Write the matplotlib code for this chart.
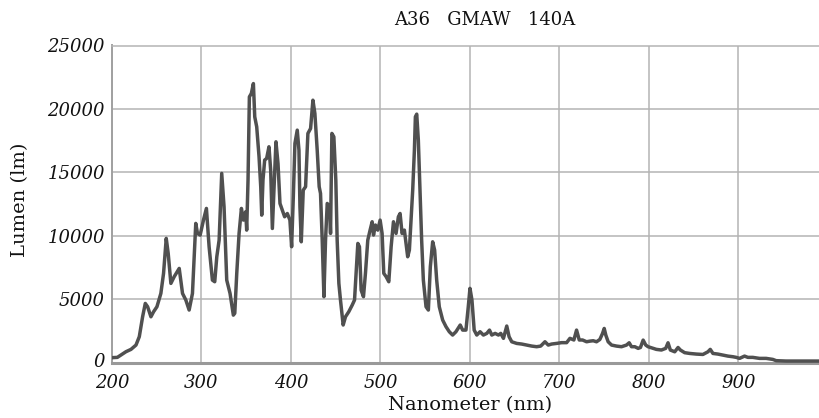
import matplotlib
matplotlib.use("Agg")
import matplotlib.pyplot as plt
import matplotlib.transforms as mtransforms

# ---- data ----
wavelength_nm = [
    201, 206, 215.6, 221.2, 226.8, 230.5, 234.2, 237.2, 239.8, 243.5, 246.5, 250.2,
    254.6, 257.6, 260.6, 262.8, 265.8, 269.5, 275.1, 278.8, 282.5, 286.2, 289.9,
    293.6, 295.5, 298.5, 302.2, 305.5, 308.5, 312.2, 314.8, 317.1, 319.7, 322.6,
    325.2, 328.2, 331.9, 335.6, 337.2, 339.4, 342, 344.6, 346.8, 349.4, 350.5, 352,
    353.5, 355.7, 358, 359.5, 361.7, 364.3, 366.2, 367.3, 368.7, 370.6, 372.8,
    375.4, 377.3, 379.2, 381, 383.2, 385.5, 387.7, 390.3, 392.9, 395.9, 398.8,
    400.7, 402.6, 404.4, 407, 408.9, 410, 411.5, 413.7, 416.3, 418.9, 421.9, 424.5,
    426.7, 429.3, 431.5, 433, 434.9, 436.8, 438.6, 440.5, 443.1, 444.2, 445.7,
    447.9, 450.1, 451.6, 453.5, 455.3, 458.3, 460.9, 464.6, 468.4, 471, 472.8,
    474.7, 476.5, 478.4, 481, 483.2, 485.8, 488.4, 490.7, 492.2, 494.4, 497, 499.6,
    501.8, 503.7, 506.3, 509.3, 511.9, 514.5, 517.4, 520, 521.9, 524.1, 526.7,
    528.6, 530.4, 532.3, 534.5, 536, 537.9, 539, 540.5, 542.3, 544.2, 546, 547.9,
    550.9, 553.5, 555.7, 558.3, 560.5, 562.8, 565.7, 569.5, 573.2, 576.9, 580.6,
    584.3, 589.1, 591.8, 595.5, 598.1, 600, 602.2, 604.7, 607.6, 611.3, 615, 618.8,
    621.8, 624.4, 628.1, 631.8, 634.4, 637.4, 641.1, 643.7, 646.7, 652.2, 657.8,
    663.4, 669, 674.5, 679, 683.8, 687.5, 691.2, 696.8, 702.4, 708, 711.7, 716.1,
    719.1, 722.1, 725.8, 730.3, 734, 737.7, 741.4, 745.1, 748.1, 750, 751.8, 754.4,
    758.2, 763.7, 769.3, 774.9, 777.9, 780.5, 784.2, 787.9, 790.5, 793.5, 796.4,
    799, 802.7, 808.3, 813.9, 818.7, 821.3, 823.9, 828.8, 832.5, 835.1, 839.9,
    845.5, 852.9, 860.3, 865.9, 868.5, 871.5, 877, 882.6, 888.2, 893.8, 897.5,
    901.2, 906.8, 910.5, 916, 923.5, 930.9, 938.4, 942.1, 953.2, 968.1, 989.3,
]
lumen = [
    400, 420, 866, 1050, 1390, 2050, 3620, 4670, 4410, 3620, 4020, 4410,
    5460, 7040, 9800, 8610, 6250, 6780, 7430, 5460, 4940, 4150, 5460,
    10980, 10190, 10060, 11240, 12160, 9140, 6510, 6380, 8350, 9660, 14920,
    12290, 6510, 5460, 3750, 3900, 7040, 10190, 12160, 11240, 11900, 10450, 14390,
    20950, 21220, 22000, 19380, 18590, 16230, 13870, 11630, 14390, 15970, 16100,
    17020, 15180, 10580, 13600, 17410, 15700, 12550, 12030, 11500, 11760, 11240,
    9140, 13080, 17280, 18330, 16750, 12290, 9530, 13600, 13870, 18070, 18460, 20690,
    19640, 16750, 13870, 13340, 9660, 5200, 9660, 12550, 12290, 10190, 18070,
    17800, 14390, 9660, 6250, 4940, 2970, 3620, 4020, 4540, 4940, 7040,
    9400, 9140, 5720, 5200, 7040, 9660, 10450, 11110, 10060, 10850, 10450, 11240,
    10190, 7040, 6780, 6380, 9140, 11110, 10190, 11500, 11760, 10190, 10450,
    9400, 8350, 8880, 11760, 13600, 16750, 19380, 19590, 17540, 13600, 9660, 6510,
    4410, 4150, 7560, 9530, 8880, 6510, 4410, 3360, 2840, 2440, 2180,
    2440, 2970, 2570, 2570, 4410, 5860, 4940, 2570, 2180, 2440, 2180, 2310,
    2570, 2180, 2310, 2180, 2310, 1920, 2890, 2050, 1650, 1520, 1470,
    1390, 1310, 1260, 1310, 1650, 1390, 1470, 1520, 1580, 1580, 1920, 1790,
    2570, 1790, 1790, 1650, 1700, 1730, 1650, 1830, 2300, 2700, 2170, 1650,
    1390, 1310, 1260, 1390, 1570, 1260, 1260, 1130, 1200, 1780, 1390,
    1260, 1180, 1050, 1000, 1130, 1570, 1000, 860, 1200, 1000, 790,
    730, 680, 650, 860, 1050, 730, 680, 600, 520, 470, 420,
    340, 520, 420, 420, 340, 340, 260, 160, 130, 130, 130,
]
x_ticks = [200, 300, 400, 500, 600, 700, 800, 900]
y_ticks = [0, 5000, 10000, 15000, 20000, 25000]
title_text = "A36   GMAW   140A"
x_label = "Nanometer (nm)"
y_label = "Lumen (lm)"

# ---- figure ----
W, H = 819, 418
fig = plt.figure(figsize=(W / 100, H / 100), dpi=100)
ax = fig.add_axes([112 / W, 1 - 362.7 / H, (W - 112) / W, (362.7 - 45.5) / H])

ax.plot(wavelength_nm, lumen, color="#505050", lw=2.5, solid_joinstyle="round",
        zorder=3)

ax.set_xlim(200, 990)
ax.set_ylim(0, 25000)
ax.set_xticks(x_ticks)
ax.set_yticks(y_ticks)
ax.set_xticklabels([str(t) for t in x_ticks])
ax.set_yticklabels([str(t) for t in y_ticks])
ax.tick_params(length=0, labelsize=13)
ax.tick_params(axis="x", pad=8)
ax.tick_params(axis="y", pad=5)
for lab in ax.get_xticklabels() + ax.get_yticklabels():
    lab.set_fontfamily("DejaVu Serif")
    lab.set_fontstyle("italic")
    lab.set_color("#111111")
# nudge the "0" y label up a little, as in the reference
zero_lab = ax.get_yticklabels()[0]
zero_lab.set_transform(zero_lab.get_transform() +
                       mtransforms.ScaledTranslation(0, 3 / 100, fig.dpi_scale_trans))

ax.grid(True, color="#b4b4b4", lw=1.1)
ax.set_axisbelow(True)
ax.spines["right"].set_visible(False)
ax.spines["top"].set_color("#b4b4b4")
ax.spines["top"].set_linewidth(1.1)
ax.spines["left"].set_color("#a0a0a0")
ax.spines["left"].set_linewidth(1.4)
ax.spines["bottom"].set_color("#999999")
ax.spines["bottom"].set_linewidth(2.2)

fig.text(485 / W, 1 - 20 / H, title_text, ha="center", va="center",
         fontsize=13, family="DejaVu Serif", color="#111111")
fig.text(470 / W, 1 - 405 / H, x_label, ha="center", va="center",
         fontsize=14, family="DejaVu Serif", color="#111111")
fig.text(20 / W, 1 - 200 / H, y_label, ha="center", va="center", rotation=90,
         fontsize=14, family="DejaVu Serif", color="#111111")

fig.savefig("out.png", dpi=100)
